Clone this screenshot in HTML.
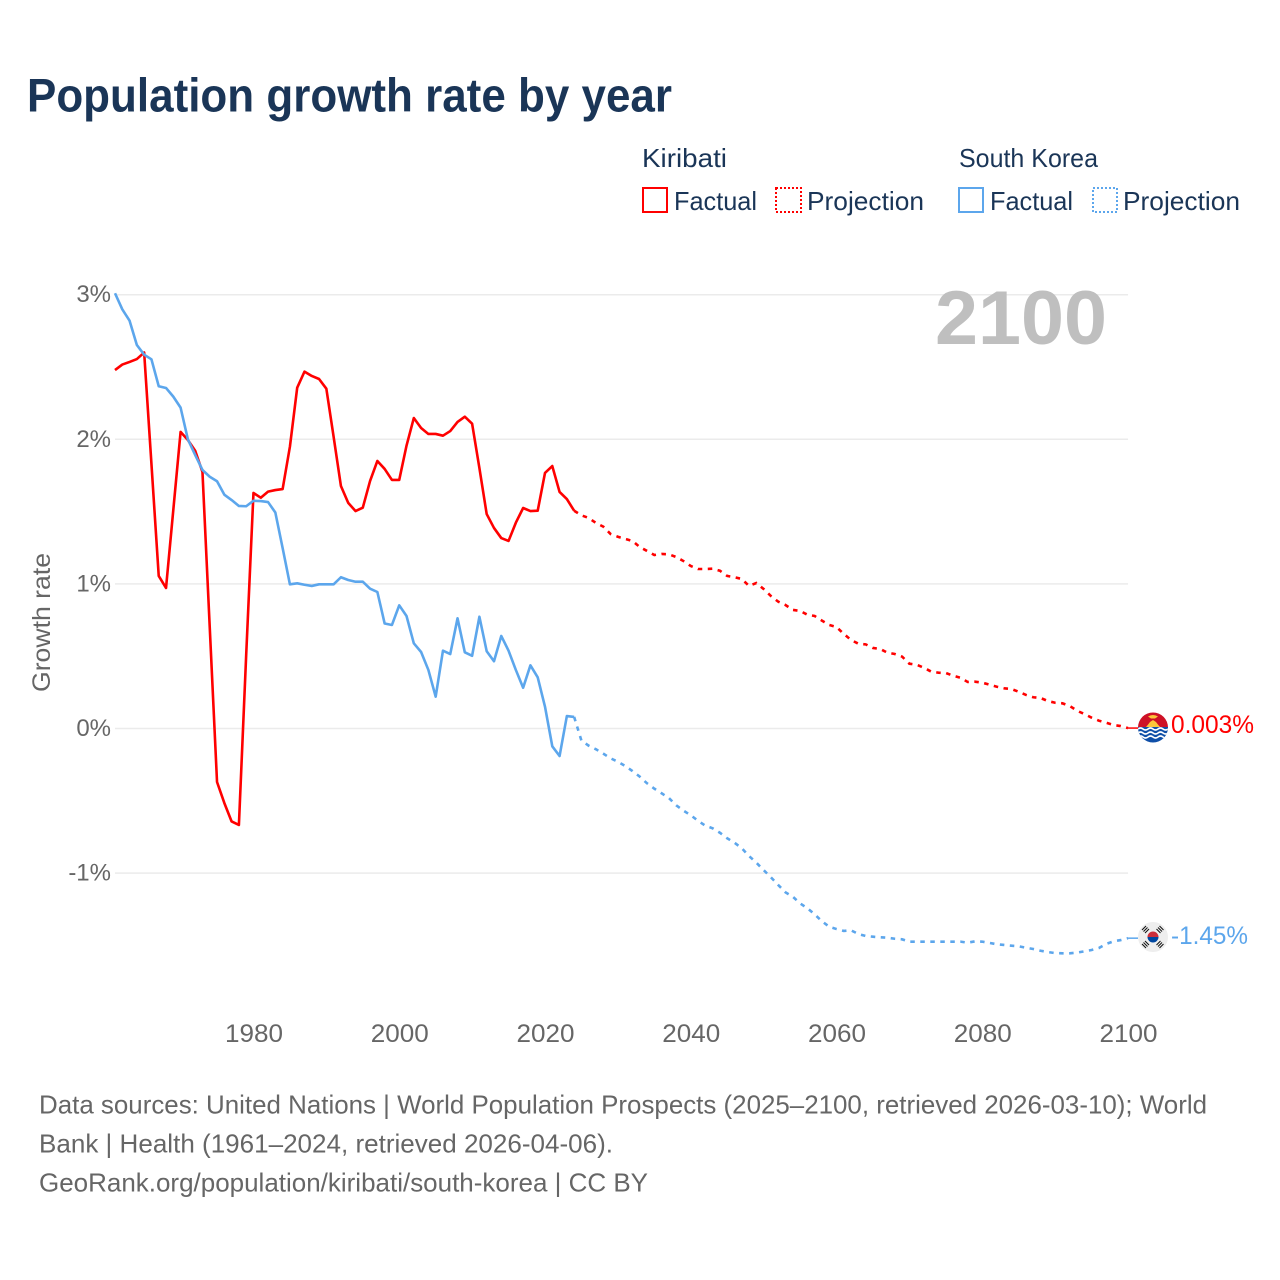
<!DOCTYPE html>
<html lang="en">
<head>
<meta charset="utf-8">
<title>Population growth rate by year</title>
<style>
  html, body { margin: 0; padding: 0; background: #fff; }
  svg { display: block; font-family: "Liberation Sans", sans-serif; }
</style>
</head>
<body>
<svg id="chart" xmlns="http://www.w3.org/2000/svg" width="1280" height="1280" viewBox="0 0 1280 1280">
  <rect width="1280" height="1280" fill="#ffffff"/>
  <text x="27" y="111.5" font-size="47" font-weight="700" fill="#1a3557" textLength="645" lengthAdjust="spacingAndGlyphs">Population growth rate by year</text>

  <g font-size="26" fill="#1a3557">
    <text x="642" y="167" textLength="85" lengthAdjust="spacingAndGlyphs">Kiribati</text>
    <text x="959" y="167" textLength="139" lengthAdjust="spacingAndGlyphs">South Korea</text>
    <rect x="643" y="188" width="24" height="24" fill="none" stroke="#ff0000" stroke-width="2"/>
    <text x="674" y="210" textLength="83" lengthAdjust="spacingAndGlyphs">Factual</text>
    <rect x="776" y="188" width="25" height="24" fill="none" stroke="#ff0000" stroke-width="2" stroke-dasharray="2 2"/>
    <text x="807" y="210" textLength="117" lengthAdjust="spacingAndGlyphs">Projection</text>
    <rect x="959" y="188" width="24" height="24" fill="none" stroke="#5ca6ec" stroke-width="2"/>
    <text x="990" y="210" textLength="83" lengthAdjust="spacingAndGlyphs">Factual</text>
    <rect x="1093" y="188" width="24" height="24" fill="none" stroke="#5ca6ec" stroke-width="2" stroke-dasharray="2 2"/>
    <text x="1123" y="210" textLength="117" lengthAdjust="spacingAndGlyphs">Projection</text>
  </g>

  <g id="grid"></g>
  <g id="y-ticks"></g>
  <g id="x-ticks"></g>

  <text x="935" y="344" font-size="76" font-weight="700" fill="#bfbfbf" textLength="172" lengthAdjust="spacingAndGlyphs">2100</text>
  <text transform="translate(50 692) rotate(-90)" font-size="25" fill="#666666" textLength="139" lengthAdjust="spacingAndGlyphs">Growth rate</text>

  <g id="series"></g>

  <g id="kiribati-flag">
    <defs>
      <clipPath id="flag-clip-k"><circle cx="1153" cy="727.5" r="15"/></clipPath>
    </defs>
    <g clip-path="url(#flag-clip-k)">
      <rect x="1138" y="712" width="30" height="16" fill="#ce1126"/>
      <rect x="1138" y="727" width="30" height="16" fill="#0f4fa8"/>
      <path d="M1146 727 L1148.5 724 L1150 722 L1153 720 L1156 722 L1157.5 724 L1160 727 Z" fill="#fcc53a"/>
      <path d="M1148 716.5 Q1153 713.5 1158 716.5 L1155 718.5 L1151 718.5 Z" fill="#fcc53a"/>
      <path d="M1138 729 q2.5 -2 5 0 t5 0 t5 0 t5 0 t5 0 t5 0" fill="none" stroke="#ffffff" stroke-width="1.6"/>
      <path d="M1138 733 q2.5 -2 5 0 t5 0 t5 0 t5 0 t5 0 t5 0" fill="none" stroke="#ffffff" stroke-width="1.6"/>
      <path d="M1138 737 q2.5 -2 5 0 t5 0 t5 0 t5 0 t5 0 t5 0" fill="none" stroke="#ffffff" stroke-width="1.6"/>
    </g>
  </g>
  <text id="kiribati-end-label" x="1171" y="733" font-size="25" fill="#ff0000" textLength="83" lengthAdjust="spacingAndGlyphs">0.003%</text>

  <g id="korea-flag">
    <circle cx="1153" cy="937" r="15" fill="#eeeeee"/>
    <path d="M1147.5 937 A5.5 5.5 0 0 1 1158.5 937 Z" fill="#cd2e3a"/>
    <path d="M1147.5 937 A5.5 5.5 0 0 0 1158.5 937 Z" fill="#0047a0"/>
    <g stroke="#111111" stroke-width="1" fill="none">
      <path d="M1143.5 931.5 l4 -4 M1145 933 l4 -4 M1142 930 l4 -4"/>
      <path d="M1158 927.5 l4 4 M1159.5 926 l4 4 M1156.5 929 l4 4"/>
      <path d="M1143.5 942.5 l4 4 M1142 944 l4 4 M1145 941 l4 4"/>
      <path d="M1158 946.5 l4 -4 M1159.5 948 l4 -4 M1156.5 945 l4 -4"/>
    </g>
  </g>
  <text id="korea-end-label" x="1171" y="944" font-size="25" fill="#5ca6ec" textLength="77" lengthAdjust="spacingAndGlyphs">-1.45%</text>

  <g font-size="26" fill="#666666">
    <text x="39" y="1113.5" textLength="1168" lengthAdjust="spacingAndGlyphs">Data sources: United Nations | World Population Prospects (2025–2100, retrieved 2026-03-10); World</text>
    <text x="39" y="1152.5" textLength="574" lengthAdjust="spacingAndGlyphs">Bank | Health (1961–2024, retrieved 2026-04-06).</text>
    <text x="39" y="1191.5" textLength="609" lengthAdjust="spacingAndGlyphs">GeoRank.org/population/kiribati/south-korea | CC BY</text>
  </g>
</svg>

<script>
const firstFactualYear = 1961;
const firstProjectionYear = 2025;

const xTickYears = [1980, 2000, 2020, 2040, 2060, 2080, 2100];
const yTickValues = [3, 2, 1, 0, -1];
const yTickLabels = ["3%", "2%", "1%", "0%", "-1%"];

const kiribatiFactual = [
  2.479, 2.517, 2.535, 2.555, 2.600, 1.830, 1.055, 0.972, 1.511, 2.051,
  1.995, 1.921, 1.774, 0.700, -0.370, -0.515, -0.643, -0.667, 0.508, 1.629,
  1.596, 1.638, 1.649, 1.656, 1.949, 2.357, 2.468, 2.438, 2.417, 2.350,
  2.016, 1.677, 1.560, 1.504, 1.527, 1.712, 1.850, 1.795, 1.719, 1.719,
  1.956, 2.147, 2.078, 2.037, 2.037, 2.025, 2.057, 2.120, 2.156, 2.108,
  1.801, 1.483, 1.387, 1.317, 1.297, 1.423, 1.525, 1.504, 1.506, 1.767,
  1.815, 1.636, 1.587, 1.506
];

const kiribatiProjection = [
  1.474, 1.456, 1.421, 1.396, 1.345, 1.326, 1.311, 1.297, 1.255, 1.228,
  1.200, 1.207, 1.205, 1.186, 1.158, 1.124, 1.103, 1.103, 1.105, 1.091,
  1.055, 1.046, 1.034, 0.986, 1.006, 0.965, 0.916, 0.877, 0.854, 0.820,
  0.813, 0.787, 0.778, 0.746, 0.716, 0.702, 0.654, 0.612, 0.586, 0.582,
  0.557, 0.550, 0.524, 0.515, 0.497, 0.448, 0.441, 0.420, 0.393, 0.386,
  0.384, 0.365, 0.351, 0.322, 0.324, 0.317, 0.303, 0.289, 0.278, 0.273,
  0.254, 0.232, 0.216, 0.211, 0.190, 0.178, 0.174, 0.156, 0.123, 0.100,
  0.075, 0.054, 0.040, 0.024, 0.017, 0.003
];

const koreaFactual = [
  3.010, 2.899, 2.820, 2.652, 2.585, 2.553, 2.367, 2.355, 2.295, 2.219,
  2.000, 1.892, 1.788, 1.741, 1.710, 1.617, 1.580, 1.539, 1.537, 1.575,
  1.573, 1.566, 1.494, 1.248, 0.997, 1.004, 0.994, 0.986, 0.997, 0.997,
  0.997, 1.046, 1.027, 1.015, 1.015, 0.967, 0.944, 0.726, 0.716, 0.852,
  0.778, 0.589, 0.529, 0.405, 0.220, 0.538, 0.515, 0.762, 0.527, 0.503,
  0.773, 0.534, 0.465, 0.640, 0.538, 0.405, 0.282, 0.437, 0.354, 0.151,
  -0.123, -0.190, 0.086, 0.080
];

const koreaProjection = [
  -0.084, -0.119, -0.144, -0.174, -0.206, -0.230, -0.259, -0.294, -0.333, -0.379,
  -0.416, -0.448, -0.481, -0.531, -0.568, -0.600, -0.638, -0.672, -0.690, -0.721,
  -0.759, -0.790, -0.828, -0.882, -0.928, -0.979, -1.029, -1.082, -1.133, -1.163,
  -1.209, -1.243, -1.285, -1.333, -1.371, -1.387, -1.400, -1.396, -1.421, -1.435,
  -1.440, -1.444, -1.447, -1.454, -1.458, -1.474, -1.474, -1.474, -1.474, -1.474,
  -1.474, -1.474, -1.474, -1.481, -1.472, -1.474, -1.483, -1.492, -1.497, -1.502,
  -1.506, -1.516, -1.525, -1.537, -1.546, -1.553, -1.555, -1.555, -1.550, -1.541,
  -1.532, -1.518, -1.490, -1.472, -1.463, -1.450
];

const SVG_NS = "http://www.w3.org/2000/svg";
const RED = "#ff0000";
const BLUE = "#5ca6ec";

function xScale(year) {
  return 115 + (year - 1961) * 7.288;
}
function yScale(value) {
  return 728.5 - value * 144.6;
}
function make(tag, parent) {
  const node = document.createElementNS(SVG_NS, tag);
  parent.appendChild(node);
  return node;
}
function linePath(values, startYear, prefix) {
  const parts = prefix ? [prefix] : [];
  values.forEach(function (v, i) {
    const cmd = parts.length === 0 ? "M" : "L";
    parts.push(cmd + xScale(startYear + i).toFixed(2) + " " + yScale(v).toFixed(2));
  });
  return parts.join(" ");
}

const gridGroup = document.getElementById("grid");
const yTickGroup = document.getElementById("y-ticks");
const xTickGroup = document.getElementById("x-ticks");
const seriesGroup = document.getElementById("series");

yTickValues.forEach(function (value, i) {
  const gridline = make("line", gridGroup);
  
  
  gridline.setAttribute("x1", xScale(firstFactualYear));
  gridline.setAttribute("x2", xScale(2100));
  gridline.setAttribute("y1", yScale(value));
  gridline.setAttribute("y2", yScale(value));
  gridline.setAttribute("stroke", "#ebebeb");
  gridline.setAttribute("stroke-width", "1.5");

  const label = make("text", yTickGroup);
  
  
  label.setAttribute("x", "111");
  label.setAttribute("y", yScale(value) + 7.5);
  label.setAttribute("text-anchor", "end");
  label.setAttribute("font-size", "24");
  label.setAttribute("fill", "#666666");
  label.textContent = yTickLabels[i];
});

xTickYears.forEach(function (year) {
  const label = make("text", xTickGroup);
  
  
  label.setAttribute("x", xScale(year) + 0.5);
  label.setAttribute("y", "1042");
  label.setAttribute("text-anchor", "middle");
  label.setAttribute("font-size", "25");
  label.setAttribute("fill", "#666666");
  label.setAttribute("textLength", "58");
  label.setAttribute("lengthAdjust", "spacingAndGlyphs");
  label.textContent = year;
});

function lastPoint(values, startYear) {
  const i = values.length - 1;
  return "M" + xScale(startYear + i).toFixed(2) + " " + yScale(values[i]).toFixed(2);
}

const kiribatiFactualLine = make("path", seriesGroup);


kiribatiFactualLine.setAttribute("d", linePath(kiribatiFactual, firstFactualYear));
kiribatiFactualLine.setAttribute("fill", "none");
kiribatiFactualLine.setAttribute("stroke", RED);
kiribatiFactualLine.setAttribute("stroke-width", "2.6");
kiribatiFactualLine.setAttribute("stroke-linejoin", "round");

const koreaFactualLine = make("path", seriesGroup);


koreaFactualLine.setAttribute("d", linePath(koreaFactual, firstFactualYear));
koreaFactualLine.setAttribute("fill", "none");
koreaFactualLine.setAttribute("stroke", BLUE);
koreaFactualLine.setAttribute("stroke-width", "2.6");
koreaFactualLine.setAttribute("stroke-linejoin", "round");

const kiribatiProjectionLine = make("path", seriesGroup);


kiribatiProjectionLine.setAttribute("d", linePath(kiribatiProjection, firstProjectionYear, lastPoint(kiribatiFactual, firstFactualYear)));
kiribatiProjectionLine.setAttribute("fill", "none");
kiribatiProjectionLine.setAttribute("stroke", RED);
kiribatiProjectionLine.setAttribute("stroke-width", "2.6");
kiribatiProjectionLine.setAttribute("stroke-dasharray", "4.5 5.5");

const koreaProjectionLine = make("path", seriesGroup);


koreaProjectionLine.setAttribute("d", linePath(koreaProjection, firstProjectionYear, lastPoint(koreaFactual, firstFactualYear)));
koreaProjectionLine.setAttribute("fill", "none");
koreaProjectionLine.setAttribute("stroke", BLUE);
koreaProjectionLine.setAttribute("stroke-width", "2.6");
koreaProjectionLine.setAttribute("stroke-dasharray", "4.5 5.5");

const kiribatiConnector = make("line", seriesGroup);


kiribatiConnector.setAttribute("x1", xScale(2100));
kiribatiConnector.setAttribute("x2", "1138");
kiribatiConnector.setAttribute("y1", yScale(kiribatiProjection[kiribatiProjection.length - 1]));
kiribatiConnector.setAttribute("y2", yScale(kiribatiProjection[kiribatiProjection.length - 1]));
kiribatiConnector.setAttribute("stroke", RED);
kiribatiConnector.setAttribute("stroke-width", "1.5");

const koreaConnector = make("line", seriesGroup);


koreaConnector.setAttribute("x1", xScale(2100));
koreaConnector.setAttribute("x2", "1138");
koreaConnector.setAttribute("y1", yScale(koreaProjection[koreaProjection.length - 1]));
koreaConnector.setAttribute("y2", yScale(koreaProjection[koreaProjection.length - 1]));
koreaConnector.setAttribute("stroke", BLUE);
koreaConnector.setAttribute("stroke-width", "1.5");
</script>
</body>
</html>
